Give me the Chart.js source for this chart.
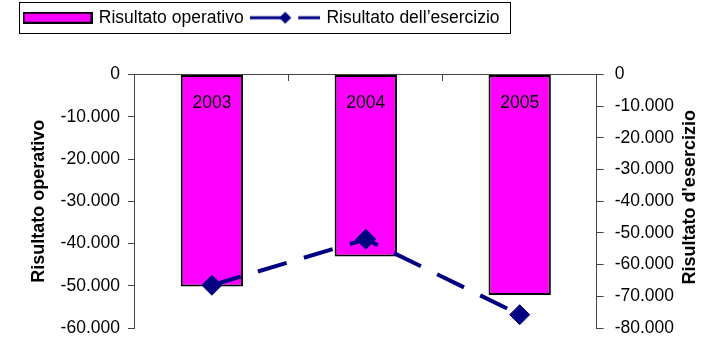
<!DOCTYPE html>
<html>
<head>
<meta charset="utf-8">
<script src="https://cdn.jsdelivr.net/npm/chart.js@4/dist/chart.umd.min.js"></script>
<style>
  html, body { margin: 0; padding: 0; background: #fff; }
  #wrap { width: 713px; height: 339px; }
</style>
</head>
<body>
<div id="wrap"><canvas id="c" width="713" height="339"></canvas></div>
<script>
const categories = ['2003', '2004', '2005'];
const risultatoOperativo = [-50200, -43100, -52200];
const risultatoEsercizio = [-66500, -52000, -75800];
const leftTicks = [0, -10000, -20000, -30000, -40000, -50000, -60000];
const rightTicks = [0, -10000, -20000, -30000, -40000, -50000, -60000, -70000, -80000];
const leftTitle = 'Risultato operativo';
const rightTitle = "Risultato d'esercizio";

const FONT = '"Liberation Sans", Arial, Helvetica, sans-serif';
const MAGENTA = '#FF00FF';
const NAVY = '#000080';

function fmt(v) {
  const n = Math.abs(Math.round(v));
  const s = String(n).replace(/\B(?=(\d{3})+(?!\d))/g, '.');
  return (v < 0 ? '-' : '') + s;
}

// legend symbols
function barSymbol() {
  const c = document.createElement('canvas');
  c.width = 70; c.height = 12;
  const g = c.getContext('2d');
  g.fillStyle = MAGENTA; g.fillRect(1, 1, 68, 10);
  g.strokeStyle = '#000'; g.lineWidth = 2; g.strokeRect(1, 1, 68, 10);
  return c;
}
function lineSymbol() {
  const c = document.createElement('canvas');
  c.width = 70; c.height = 16;
  const g = c.getContext('2d');
  g.strokeStyle = NAVY; g.lineWidth = 3;
  g.beginPath(); g.moveTo(0, 8); g.lineTo(34, 8); g.stroke();
  g.beginPath(); g.moveTo(48, 8); g.lineTo(70, 8); g.stroke();
  g.fillStyle = NAVY;
  g.beginPath(); g.moveTo(35, 2); g.lineTo(41, 8); g.lineTo(35, 14); g.lineTo(29, 8); g.closePath(); g.fill();
  return c;
}
const symBar = barSymbol();
const symLine = lineSymbol();

const extras = {
  id: 'extras',
  beforeInit(chart) {
    const origFit = chart.legend.fit;
    chart.legend.fit = function () {
      origFit.bind(chart.legend)();
      this.height += 38;
    };
  },
  afterDraw(chart) {
    const ctx = chart.ctx;
    const lg = chart.legend;
    if (lg && lg.legendHitBoxes && lg.legendHitBoxes.length) {
      const hb = lg.legendHitBoxes;
      const first = hb[0], last = hb[hb.length - 1];
      const cy = first.top + first.height / 2;
      ctx.save();
      ctx.strokeStyle = '#000';
      ctx.lineWidth = 1;
      ctx.strokeRect(Math.round(first.left - 6) + 0.5, Math.round(cy - 16) + 0.5,
        Math.round(last.left + last.width - first.left + 16), 31);
      ctx.restore();
    }
    // right axis title, reading bottom-to-top like the left one
    const y1 = chart.scales.y1;
    const area = chart.chartArea;
    ctx.save();
    ctx.translate(y1.left + 93, (area.top + area.bottom) / 2 - 4);
    ctx.rotate(-Math.PI / 2);
    ctx.font = 'bold 18px ' + FONT;
    ctx.fillStyle = '#000';
    ctx.textAlign = 'center';
    ctx.textBaseline = 'middle';
    ctx.fillText(rightTitle, 0, 0);
    ctx.restore();
  }
};

function trimPad(scale) {
  scale.paddingTop = 9;
  scale.paddingBottom = 6.5;
}

const ctx = document.getElementById('c').getContext('2d');
new Chart(ctx, {
  data: {
    labels: categories,
    datasets: [
      {
        type: 'bar',
        label: leftTitle,
        data: risultatoOperativo,
        backgroundColor: MAGENTA,
        borderColor: '#000',
        borderWidth: 2,
        borderSkipped: false,
        barPercentage: 0.405,
        categoryPercentage: 1,
        yAxisID: 'y',
        order: 2
      },
      {
        type: 'line',
        label: "Risultato dell\u2019esercizio",
        data: risultatoEsercizio,
        borderColor: NAVY,
        backgroundColor: NAVY,
        borderWidth: 4,
        borderDash: [30, 18],
        pointStyle: 'rectRot',
        pointRadius: 10,
        pointBorderWidth: 1,
        pointBackgroundColor: NAVY,
        pointBorderColor: NAVY,
        tension: 0,
        fill: false,
        yAxisID: 'y1',
        order: 1
      }
    ]
  },
  options: {
    responsive: false,
    animation: false,
    devicePixelRatio: 1,
    layout: { padding: { left: 16, right: 28, top: 0, bottom: 0 } },
    plugins: {
      tooltip: { enabled: false },
      legend: {
        position: 'top',
        align: 'start',
        labels: {
          usePointStyle: true,
          pointStyleWidth: 65,
          boxHeight: 12,
          padding: 9,
          color: '#000',
          font: { family: FONT, size: 17.5 },
          generateLabels(chart) {
            return [
              { text: leftTitle, pointStyle: symBar, fillStyle: MAGENTA, strokeStyle: '#000', lineWidth: 0, datasetIndex: 0, hidden: false, fontColor: '#000' },
              { text: "Risultato dell\u2019esercizio", pointStyle: symLine, fillStyle: NAVY, strokeStyle: NAVY, lineWidth: 0, datasetIndex: 1, hidden: false, fontColor: '#000' }
            ];
          }
        }
      }
    },
    scales: {
      x: {
        type: 'category',
        position: { y: 0 },
        offset: true,
        grid: { display: true, offset: true, drawOnChartArea: false, drawTicks: true, tickLength: 6, color: '#444', z: 1 },
        border: { display: true, color: '#444', width: 1, z: 1 },
        ticks: { color: '#000', padding: 12, z: 1, font: { family: FONT, size: 17.5 } }
      },
      y: {
        position: 'left',
        min: -60000,
        max: 0,
        afterBuildTicks(scale) { scale.ticks = leftTicks.map(v => ({ value: v })); },
        afterFit: trimPad,
        grid: { drawOnChartArea: false, drawTicks: true, tickLength: 7, color: '#444' },
        border: { display: true, color: '#444', width: 1 },
        ticks: { color: '#000', padding: 8, font: { family: FONT, size: 17.5 }, callback: v => fmt(v) },
        title: { display: true, text: leftTitle, color: '#000', padding: { top: 12, bottom: 3 }, font: { family: FONT, size: 18, weight: 'bold' } }
      },
      y1: {
        position: 'right',
        min: -80000,
        max: 0,
        afterBuildTicks(scale) { scale.ticks = rightTicks.map(v => ({ value: v })); },
        afterFit: trimPad,
        grid: { drawOnChartArea: false, drawTicks: true, tickLength: 7, color: '#444' },
        border: { display: true, color: '#444', width: 1 },
        ticks: { color: '#000', padding: 11, font: { family: FONT, size: 17.5 }, callback: v => fmt(v) },
        title: { display: false }
      }
    }
  },
  plugins: [extras]
});
</script>
</body>
</html>
